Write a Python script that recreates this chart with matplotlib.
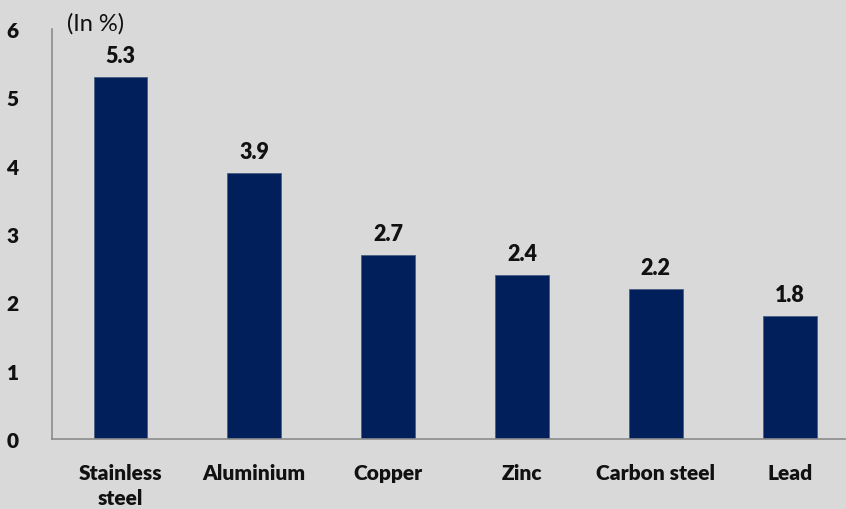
import matplotlib.pyplot as plt

# growth in metal demand, per cent
metals = ["Stainless\nsteel", "Aluminium", "Copper", "Zinc", "Carbon steel", "Lead"]
growth = [5.3, 3.9, 2.7, 2.4, 2.2, 1.8]
y_ticks = [0, 1, 2, 3, 4, 5, 6]

bg = "#d9d9d9"
bar_color = "#001f5b"

plt.rcParams["font.family"] = ["Lato", "DejaVu Sans"]

fig = plt.figure(figsize=(8.46, 5.10), dpi=100, facecolor=bg)
ax = fig.add_axes([52 / 846, 70 / 510, 794 / 846, 410 / 510], facecolor=bg)

x = list(range(len(metals)))
bars = ax.bar(x, growth, width=0.4, color=bar_color, edgecolor="#4a5f86", linewidth=0.6)

for xi, v in zip(x, growth):
    ax.text(xi, v + 0.16, f"{v:.1f}", ha="center", va="bottom",
            fontsize=15.5, fontweight="heavy", color="#111111")

ax.set_xlim(-0.51, 5.42)
ax.set_ylim(0, 6)
ax.set_xticks(x)
ax.set_xticklabels(metals, fontsize=15, fontweight="heavy", color="#111111",
                   linespacing=1.4, va="top")
ax.set_yticks(y_ticks)
ax.set_yticklabels([str(t) for t in y_ticks], fontsize=15, fontweight="heavy", color="#111111")
ax.tick_params(axis="both", length=0)
ax.tick_params(axis="x", pad=17)
ax.tick_params(axis="y", pad=24)

for side in ["top", "right"]:
    ax.spines[side].set_visible(False)
for side in ["left", "bottom"]:
    ax.spines[side].set_color("#8c8c8c")
    ax.spines[side].set_linewidth(1.2)

fig.text(67 / 846, 1 - 24 / 510, "(In %)", ha="left", va="center", fontsize=17, color="#111111")

fig.savefig("out.png", dpi=100, facecolor=bg)
